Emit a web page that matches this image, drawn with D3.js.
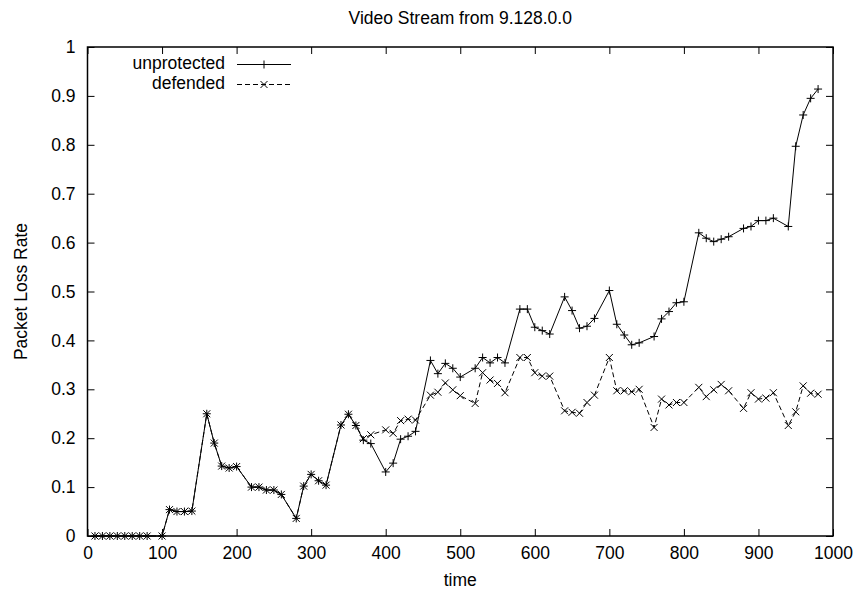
<!DOCTYPE html>
<html>
<head>
<meta charset="utf-8">
<script src="https://cdn.jsdelivr.net/npm/d3@7"></script>
<style>
  html, body { margin: 0; padding: 0; background: #fff; }
  svg text { font-family: "Liberation Sans", Arial, sans-serif; fill: #000; }
</style>
</head>
<body>
<svg id="chart" width="855" height="593"></svg>
<script>
const title = "Video Stream from 9.128.0.0";
const xLabel = "time";
const yLabel = "Packet Loss Rate";
const seriesNames = ["unprotected", "defended"];

const times = [10,20,30,40,50,60,70,80,100,110,120,130,140,160,170,180,190,200,220,230,240,250,260,280,290,300,310,320,340,350,360,370,380,400,410,420,430,440,460,470,480,490,500,520,530,540,550,560,580,590,600,610,620,640,650,660,670,680,700,710,720,730,740,760,770,780,790,800,820,830,840,850,860,880,890,900,910,920,940,950,960,970,980];

const unprotected = [0,0,0,0,0,0,0,0,0,0.054,0.05,0.05,0.051,0.25,0.19,0.143,0.139,0.142,0.1,0.1,0.094,0.094,0.085,0.036,0.102,0.126,0.113,0.104,0.227,0.249,0.226,0.196,0.189,0.131,0.149,0.198,0.204,0.214,0.359,0.332,0.353,0.343,0.325,0.343,0.365,0.354,0.365,0.354,0.464,0.464,0.427,0.42,0.413,0.489,0.461,0.425,0.429,0.445,0.502,0.433,0.411,0.391,0.395,0.408,0.444,0.459,0.477,0.479,0.62,0.609,0.602,0.607,0.612,0.629,0.633,0.645,0.645,0.65,0.633,0.797,0.861,0.895,0.914];

const defended = [0,0,0,0,0,0,0,0,0,0.054,0.05,0.05,0.051,0.25,0.19,0.143,0.139,0.142,0.1,0.1,0.094,0.094,0.085,0.036,0.102,0.126,0.113,0.104,0.227,0.249,0.226,0.199,0.207,0.217,0.21,0.236,0.239,0.237,0.288,0.294,0.313,0.299,0.287,0.271,0.334,0.319,0.312,0.293,0.365,0.365,0.334,0.327,0.327,0.256,0.253,0.251,0.273,0.288,0.365,0.297,0.297,0.295,0.3,0.222,0.28,0.268,0.273,0.273,0.304,0.285,0.299,0.31,0.297,0.261,0.293,0.28,0.282,0.293,0.226,0.254,0.307,0.292,0.29];

const xTicks = [0,100,200,300,400,500,600,700,800,900,1000];
const yTicks = [0,0.1,0.2,0.3,0.4,0.5,0.6,0.7,0.8,0.9,1];

const svg = d3.select("#chart");
const pL = 87.5, pR = 833, pT = 47, pB = 536;
const x = d3.scaleLinear().domain([0, 1000]).range([pL, pR]);
const y = d3.scaleLinear().domain([0, 1]).range([pB, pT]);
const fs = 17.5;
const tickLen = 7;

function styleAxis(g, showLabels) {
  g.select(".domain").remove();
  g.selectAll(".tick line").attr("stroke", "#000").attr("stroke-width", 1);
  g.selectAll(".tick text").style("font-size", fs + "px").style("font-family", '"Liberation Sans", Arial, sans-serif').attr("fill", "#000");
  if (!showLabels) g.selectAll(".tick text").remove();
}

const fmtY = d => d === 0 ? "0" : d === 1 ? "1" : d3.format(".1f")(d);

svg.append("g").attr("transform", `translate(0,${pB})`)
  .call(d3.axisBottom(x).tickValues(xTicks).tickSize(-tickLen).tickPadding(11).tickFormat(d3.format("d")))
  .call(g => styleAxis(g, true));
svg.append("g").attr("transform", `translate(0,${pT})`)
  .call(d3.axisTop(x).tickValues(xTicks).tickSize(-tickLen))
  .call(g => styleAxis(g, false));
svg.append("g").attr("transform", `translate(${pL},0)`)
  .call(d3.axisLeft(y).tickValues(yTicks).tickSize(-tickLen).tickPadding(12).tickFormat(fmtY))
  .call(g => styleAxis(g, true));
svg.append("g").attr("transform", `translate(${pR},0)`)
  .call(d3.axisRight(y).tickValues(yTicks).tickSize(-tickLen))
  .call(g => styleAxis(g, false));

svg.append("rect").attr("x", pL).attr("y", pT).attr("width", pR - pL).attr("height", pB - pT)
  .attr("fill", "none").attr("stroke", "#000").attr("stroke-width", 1.5);

// title and labels
svg.append("text").attr("x", (pL + pR) / 2).attr("y", 24).attr("text-anchor", "middle")
  .style("font-size", fs + "px").text(title);
svg.append("text").attr("x", (pL + pR) / 2).attr("y", 586).attr("text-anchor", "middle")
  .style("font-size", fs + "px").text(xLabel);
svg.append("text").attr("transform", `translate(27,${(pT + pB) / 2}) rotate(-90)`).attr("text-anchor", "middle")
  .style("font-size", fs + "px").text(yLabel);

const plusPath = "M-4,0H4M0,-4V4";
const crossPath = "M-3.5,-3.5L3.5,3.5M-3.5,3.5L3.5,-3.5";

const series = [
  { name: seriesNames[0], values: unprotected, dash: null, marker: plusPath },
  { name: seriesNames[1], values: defended, dash: "5,3", marker: crossPath }
];

const line = d3.line().x((d, i) => x(times[i])).y(d => y(d));

series.forEach(s => {
  svg.append("path").datum(s.values).attr("d", line)
    .attr("fill", "none").attr("stroke", "#000").attr("stroke-width", 1)
    .attr("stroke-dasharray", s.dash);
  svg.append("g").selectAll("path").data(s.values).join("path")
    .attr("transform", (d, i) => `translate(${x(times[i])},${y(d)})`)
    .attr("d", s.marker).attr("stroke", "#000").attr("stroke-width", 1).attr("fill", "none");
});

// legend
const legTextX = 225, legLineX0 = 237, legLineX1 = 291, legY0 = 64.5, legDy = 20;
series.forEach((s, i) => {
  const yy = legY0 + i * legDy;
  svg.append("text").attr("x", legTextX).attr("y", yy + 4.5).attr("text-anchor", "end")
    .style("font-size", fs + "px").text(s.name);
  svg.append("line").attr("x1", legLineX0).attr("x2", legLineX1).attr("y1", yy).attr("y2", yy)
    .attr("stroke", "#000").attr("stroke-width", 1).attr("stroke-dasharray", s.dash);
  svg.append("path").attr("transform", `translate(${(legLineX0 + legLineX1) / 2},${yy})`)
    .attr("d", s.marker).attr("stroke", "#000").attr("fill", "none");
});
</script>
</body>
</html>
